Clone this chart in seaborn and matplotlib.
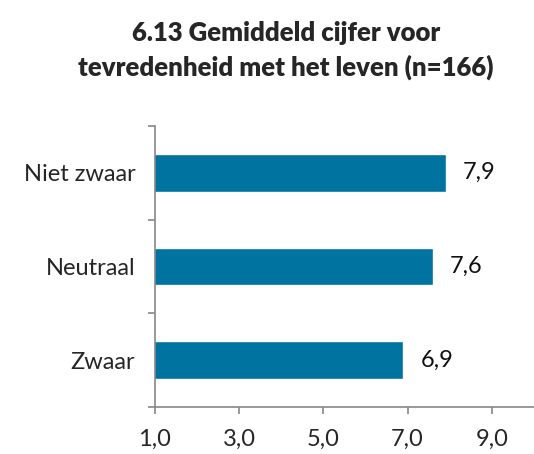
import seaborn as sns
import matplotlib.pyplot as plt
import pandas as pd

# data
categories = ["Niet zwaar", "Neutraal", "Zwaar"]
values = [7.9, 7.6, 6.9]
tick_values = [1, 3, 5, 7, 9]
tick_labels = ["1,0", "3,0", "5,0", "7,0", "9,0"]

df = pd.DataFrame({"groep": categories, "cijfer": values})

sns.set_style("white")
plt.rcParams["font.family"] = ["Lato", "DejaVu Sans"]

fig = plt.figure(figsize=(5.34, 4.54), dpi=100)
ax = fig.add_axes([0.290, 0.1035, 0.71, 0.619])

bar_color = "#0073A1"
sns.barplot(data=df, y="groep", x="cijfer", orient="h", color=bar_color,
            width=0.4, saturation=1, ax=ax)

ax.set_xlim(1, 10)
ax.set_ylim(2.5, -0.5)

# value labels
for i, v in enumerate(values):
    ax.text(v + 0.4, i, f"{v:.1f}".replace(".", ","), va="center", ha="left",
            fontsize=17, color="#111111")

ax.set_xticks(tick_values)
ax.set_xticklabels(tick_labels, fontsize=17)
ax.set_yticks(range(len(categories)))
ax.set_yticklabels(categories, fontsize=17)
ax.set_yticks([-0.5, 0.5, 1.5, 2.5], minor=True)
ax.tick_params(axis="y", which="major", left=True, length=0, pad=14)
ax.tick_params(axis="y", which="minor", left=True, length=5, width=1.2, color="#888888", direction="out")
ax.tick_params(axis="x", which="major", bottom=True, length=5, width=1.2, color="#888888", direction="out", pad=11)

ax.set_xlabel("")
ax.set_ylabel("")
for s in ["top", "right"]:
    ax.spines[s].set_visible(False)
for s in ["left", "bottom"]:
    ax.spines[s].set_color("#888888")
    ax.spines[s].set_linewidth(1.2)

fig.text(0.535, 0.953, "6.13 Gemiddeld cijfer voor\ntevredenheid met het leven (n=166)",
         ha="center", va="top", fontsize=18.5, fontweight="heavy", linespacing=1.42)

plt.savefig("out.png", dpi=100)
